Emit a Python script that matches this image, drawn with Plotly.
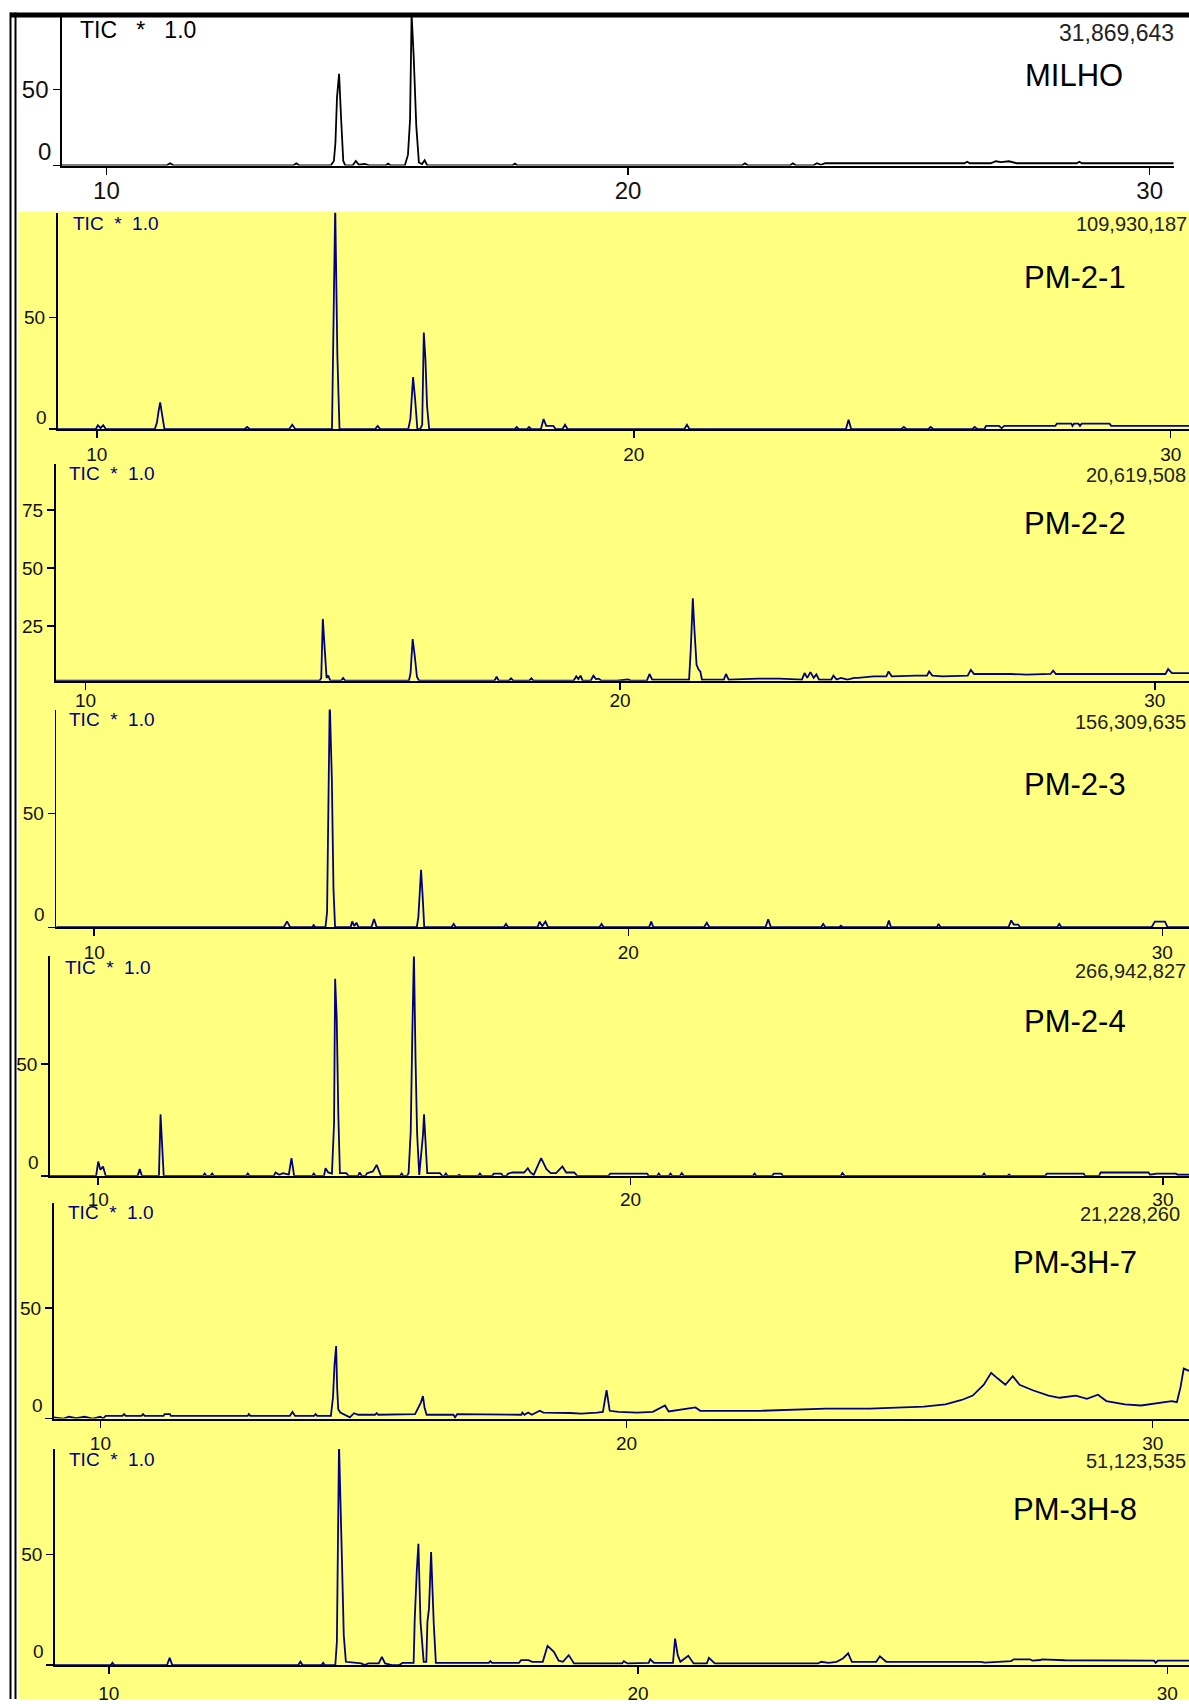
import plotly.graph_objects as go

W, H = 1189, 1704

# ---------------- data: (retention time [min], relative intensity [%]) ----------------
milho = [(9.15, 0), (11.15, 0), (11.22, 1.5), (11.29, 0), (13.58, 0), (13.64, 1.5), (13.70, 0),
         (14.30, 0), (14.36, 3), (14.39, 15), (14.42, 45), (14.46, 60.5), (14.50, 30), (14.54, 3),
         (14.58, 0), (14.72, 0), (14.78, 3), (14.84, 0.5), (14.95, 1), (15.05, 0), (15.35, 0),
         (15.40, 1.2), (15.45, 0), (15.72, 0), (15.78, 7), (15.82, 30), (15.85, 100), (15.89, 72),
         (15.94, 26), (15.99, 2), (16.05, 1), (16.10, 3.5), (16.15, 0), (17.78, 0), (17.83, 1.2),
         (17.88, 0), (22.18, 0), (22.24, 1.5), (22.30, 0), (23.10, 0), (23.16, 1.5), (23.22, 0),
         (23.55, 0), (23.62, 1.5), (23.70, 0.5), (23.78, 1.5), (26.45, 1.5), (26.50, 2.5),
         (26.55, 1.5), (26.95, 1.5), (27.05, 2.8), (27.15, 2.2), (27.30, 2.8), (27.45, 1.5),
         (28.60, 1.5), (28.65, 2.5), (28.70, 1.5), (30.46, 1.5)]

pm_2_1 = [(9.27, 0), (9.98, 0), (10.02, 1.8), (10.07, 0.5), (10.12, 1.8), (10.17, 0), (11.08, 0),
          (11.12, 3), (11.15, 8), (11.18, 12), (11.22, 6), (11.26, 0), (12.75, 0), (12.80, 1),
          (12.85, 0), (13.58, 0), (13.64, 2), (13.70, 0), (14.38, 0), (14.41, 49), (14.44, 100),
          (14.48, 33), (14.52, 0), (15.18, 0), (15.23, 1.5), (15.28, 0), (15.80, 0), (15.84, 4.6),
          (15.89, 23.3), (15.93, 12.8), (15.97, 0), (16.02, 0), (16.06, 2), (16.09, 43.3),
          (16.12, 31.4), (16.15, 10.5), (16.19, 0), (17.78, 0), (17.82, 1), (17.86, 0), (18.01, 0),
          (18.05, 1), (18.09, 0), (18.27, 0), (18.32, 4.6), (18.37, 1.5), (18.50, 1.5), (18.55, 0),
          (18.67, 0), (18.72, 2), (18.77, 0), (20.94, 0), (20.99, 2), (21.04, 0), (23.95, 0),
          (24.00, 4.2), (24.05, 0), (24.98, 0), (25.03, 1), (25.08, 0), (25.48, 0), (25.53, 1),
          (25.58, 0), (26.30, 0), (26.35, 1), (26.40, 0), (26.53, 0), (26.56, 1.5), (26.80, 1.5),
          (26.85, 0.5), (26.90, 1.5), (27.85, 1.5), (27.88, 2.5), (28.15, 2.5), (28.17, 1.5),
          (28.20, 2.5), (28.28, 2.5), (28.31, 1.5), (28.34, 2.5), (28.86, 2.5), (28.89, 1.5),
          (30.34, 1.5)]

pm_2_2 = [(9.44, 1.3), (14.38, 1.3), (14.41, 2.5), (14.44, 28), (14.47, 16.9), (14.51, 2.5),
          (14.54, 3.5), (14.58, 1.3), (14.78, 1.3), (14.82, 2.5), (14.86, 1.3), (16.05, 1.3),
          (16.08, 4.5), (16.12, 19.3), (16.16, 11.8), (16.20, 3), (16.24, 1.3), (17.65, 1.3),
          (17.69, 3), (17.73, 1.3), (17.92, 1.3), (17.96, 2.3), (18.00, 1.3), (18.30, 1.3),
          (18.34, 2.3), (18.38, 1.3), (19.13, 1.3), (19.18, 3.2), (19.22, 2), (19.26, 3.5),
          (19.30, 1.3), (19.45, 1.3), (19.50, 3.5), (19.55, 2), (19.60, 2.2), (19.65, 1.3),
          (19.94, 1.3), (20.15, 1.8), (20.20, 1.3), (20.50, 1.3), (20.55, 4.2), (20.60, 1.8),
          (21.01, 1.8), (21.29, 1.8), (21.32, 14.2), (21.36, 36.9), (21.39, 23.3), (21.43, 8.2),
          (21.47, 6), (21.50, 5.3), (21.53, 1.8), (21.94, 1.8), (21.98, 4.2), (22.03, 1.8),
          (22.59, 2.2), (22.98, 2.2), (23.40, 1.8), (23.45, 4.6), (23.50, 2.5), (23.56, 5),
          (23.62, 2.5), (23.67, 4), (23.72, 1.8), (23.95, 1.8), (23.99, 3.5), (24.05, 1.8),
          (24.13, 2.5), (24.25, 1.8), (24.38, 2.5), (24.45, 2.5), (24.74, 3.2), (24.98, 3.2),
          (25.02, 5.3), (25.08, 3.2), (25.53, 3.5), (25.74, 3.5), (25.78, 5.3), (25.84, 3.5),
          (26.03, 3.2), (26.50, 3.5), (26.56, 6), (26.62, 4.2), (27.31, 4.2), (27.60, 3.9),
          (28.05, 4.2), (28.10, 5.6), (28.15, 4.2), (28.75, 4.2), (29.10, 3.9), (29.46, 3.9),
          (30.00, 4.2), (30.20, 4.2), (30.25, 6.3), (30.32, 4.6), (30.64, 4.6)]

pm_2_3 = [(9.29, 0), (13.55, 0), (13.61, 2.6), (13.67, 0), (14.08, 0), (14.11, 1), (14.14, 0),
          (14.33, 0), (14.36, 6.6), (14.41, 100), (14.45, 65), (14.48, 17), (14.51, 0), (14.80, 0),
          (14.83, 2.6), (14.87, 0.5), (14.91, 2), (14.95, 0), (15.19, 0), (15.24, 3.6), (15.29, 0),
          (16.04, 0), (16.07, 4.6), (16.12, 25.3), (16.15, 13.6), (16.18, 0), (16.69, 0),
          (16.73, 1.5), (16.77, 0), (17.67, 0), (17.71, 1.5), (17.75, 0), (18.30, 0), (18.34, 2.5),
          (18.39, 0.5), (18.45, 2.5), (18.50, 0), (19.46, 0), (19.50, 1.5), (19.54, 0), (20.39, 0),
          (20.43, 2.5), (20.47, 0), (21.42, 0), (21.47, 2), (21.52, 0), (22.57, 0), (22.62, 3.5),
          (22.67, 0), (23.61, 0), (23.65, 1.5), (23.69, 0), (23.95, 0), (23.98, 0.7), (24.02, 0),
          (24.84, 0), (24.88, 3), (24.92, 0), (25.78, 0), (25.81, 1.5), (25.85, 0), (27.12, 0),
          (27.17, 3), (27.22, 1.2), (27.30, 1.2), (27.34, 0), (28.03, 0), (28.07, 1.5), (28.11, 0),
          (29.80, 0), (29.86, 2.5), (30.05, 2.5), (30.10, 0), (30.50, 0)]

pm_2_4 = [(9.09, 0), (9.96, 0), (10.00, 6.4), (10.04, 2.7), (10.09, 4.2), (10.14, 0), (10.74, 0),
          (10.78, 3), (10.82, 0), (11.14, 0), (11.17, 27.5), (11.20, 14.6), (11.23, 0), (11.97, 0),
          (12.00, 1), (12.03, 0), (12.11, 0), (12.14, 1), (12.17, 0), (12.78, 0), (12.81, 1),
          (12.84, 0), (13.30, 0), (13.33, 1.5), (13.40, 0.5), (13.47, 1.2), (13.58, 0.5),
          (13.63, 7.9), (13.68, 0), (14.02, 0), (14.05, 1), (14.08, 0), (14.24, 0), (14.27, 3.4),
          (14.32, 1.5), (14.39, 1), (14.43, 23.5), (14.45, 88.2), (14.48, 70.4), (14.51, 27.2),
          (14.54, 1.2), (14.66, 1.2), (14.70, 0), (14.88, 0), (14.91, 1.5), (14.95, 0), (15.02, 0),
          (15.05, 1.2), (15.16, 2), (15.23, 4.9), (15.28, 1.2), (15.31, 0), (15.67, 0), (15.70, 1),
          (15.73, 0), (15.80, 0), (15.83, 1.2), (15.87, 19.8), (15.90, 63.7), (15.93, 100),
          (15.96, 52.5), (15.99, 19), (16.03, 0.4), (16.06, 7.1), (16.10, 18.3), (16.12, 27.5),
          (16.15, 13.8), (16.18, 1.2), (16.42, 1.2), (16.46, 0), (16.50, 0), (16.53, 1), (16.56, 0),
          (16.75, 0), (16.78, 0.5), (16.81, 0), (17.14, 0), (17.17, 1), (17.20, 0), (17.40, 0),
          (17.43, 1), (17.57, 1), (17.60, 0), (17.67, 0), (17.70, 1), (17.78, 1.5), (18.00, 1.5),
          (18.07, 3.4), (18.12, 1.5), (18.18, 0.4), (18.32, 7.9), (18.42, 3), (18.50, 1.2),
          (18.60, 1.2), (18.72, 4.2), (18.79, 1.5), (18.94, 1.5), (19.00, 0), (19.58, 0),
          (19.62, 1), (20.31, 1), (20.34, 0), (20.50, 0), (20.53, 1), (20.56, 0), (20.72, 0),
          (20.75, 1), (20.78, 0), (20.93, 0), (20.96, 1.2), (21.00, 0), (22.30, 0), (22.33, 1),
          (22.36, 0), (22.66, 0), (22.69, 1), (22.83, 1), (22.86, 0), (23.95, 0), (23.98, 1.2),
          (24.02, 0), (26.61, 0), (26.64, 1), (26.67, 0), (27.08, 0), (27.11, 0.6), (27.14, 0),
          (27.79, 0), (27.82, 1), (28.51, 1), (28.54, 0), (28.80, 0), (28.83, 1.5), (29.73, 1.5),
          (29.76, 0.5), (29.88, 1), (30.24, 1), (30.28, 0.5), (30.49, 0.5)]

pm_3h_7 = [(9.11, 0.5), (9.30, 0), (9.40, 0.8), (9.54, 0.2), (9.70, 0.8), (9.85, 0), (10.00, 0.8),
           (10.05, 0), (10.10, 1.2), (10.42, 1.2), (10.45, 2), (10.48, 1.2), (10.78, 1.2),
           (10.81, 2), (10.84, 1.2), (11.20, 1.2), (11.22, 2), (11.32, 2), (11.34, 1.2), (12.80, 1.2),
           (12.82, 2), (12.85, 1.2), (13.60, 1.2), (13.65, 3), (13.70, 1.2), (14.06, 1.2),
           (14.09, 2), (14.12, 1.2), (14.38, 1.2), (14.42, 9.5), (14.45, 24.5), (14.48, 32.8),
           (14.50, 13.5), (14.52, 4.2), (14.56, 2.7), (14.67, 1.2), (14.74, 0.5), (14.82, 2.4),
           (14.90, 1.7), (15.22, 1.7), (15.25, 2.5), (15.28, 1.7), (15.94, 1.7), (15.98, 2),
           (16.09, 7.2), (16.13, 10.2), (16.16, 5), (16.20, 1.7), (16.71, 1.7), (16.74, 0.5),
           (16.78, 2), (17.25, 2), (17.28, 1.7), (18.00, 1.7), (18.02, 2.7), (18.06, 1.7),
           (18.13, 2.7), (18.20, 1.7), (18.35, 3.5), (18.42, 2.7), (18.93, 2.5), (19.14, 2.2),
           (19.44, 2.7), (19.55, 3), (19.62, 12.8), (19.68, 3.5), (19.85, 3), (20.20, 2.7),
           (20.50, 3), (20.73, 5.9), (20.80, 3.2), (21.31, 5), (21.40, 3.5), (22.55, 3.5),
           (23.79, 4.5), (24.62, 4.5), (25.65, 5.4), (26.06, 6.4), (26.37, 8.4), (26.58, 10.4),
           (26.79, 15.3), (26.93, 20.7), (27.05, 18.2), (27.20, 15.3), (27.34, 19.2), (27.47, 15.3),
           (27.72, 12.8), (28.02, 10.4), (28.23, 9.4), (28.54, 10.4), (28.75, 8.9), (28.96, 10.8),
           (29.12, 7.9), (29.47, 6.4), (29.78, 5.9), (30.09, 6.9), (30.36, 7.9), (30.46, 7.4),
           (30.53, 14.3), (30.59, 22.6), (30.69, 21.6)]

pm_3h_8 = [(8.98, 0), (10.04, 0), (10.07, 1), (10.10, 0), (11.10, 0), (11.15, 3.3), (11.20, 0),
           (13.58, 0), (13.62, 1.5), (13.66, 0), (14.02, 0), (14.05, 1), (14.08, 0), (14.28, 0),
           (14.31, 10.5), (14.35, 100), (14.40, 52.6), (14.44, 13.5), (14.48, 1.5), (14.77, 0.75),
           (14.84, 0), (14.90, 0.75), (15.10, 0.75), (15.16, 3.75), (15.22, 0.75), (15.35, 0),
           (15.49, 0), (15.55, 1.05), (15.76, 1.05), (15.78, 20.3), (15.82, 42.8), (15.85, 54.8),
           (15.89, 19.5), (15.95, 1.5), (16.00, 1.5), (16.02, 19.5), (16.05, 25.5), (16.09, 51.1),
           (16.14, 18.8), (16.18, 1.05), (17.18, 1.05), (17.21, 1.8), (17.24, 1.05), (17.75, 1.05),
           (17.79, 2.25), (17.93, 2.25), (18.00, 1.5), (18.20, 1.5), (18.29, 8.7), (18.41, 6),
           (18.50, 2), (18.58, 1.5), (18.69, 4.5), (18.79, 0.75), (19.70, 0.75), (19.73, 1.8),
           (19.80, 0.75), (20.20, 1.05), (20.23, 2.6), (20.30, 1.05), (20.66, 1.05), (20.70, 12),
           (20.75, 4.5), (20.80, 1.5), (20.95, 4.2), (21.05, 0.75), (21.30, 0.75), (21.34, 3.3),
           (21.45, 0.75), (22.46, 1.05), (22.50, 0.75), (23.40, 0.75), (23.46, 1.5), (23.60, 1.05),
           (23.75, 1.5), (23.87, 3), (23.97, 5.3), (24.04, 1.5), (24.50, 1.5), (24.57, 4),
           (24.69, 1.5), (26.48, 1.5), (26.55, 1.1), (27.05, 1.8), (27.10, 2.6), (27.41, 2.6),
           (27.45, 2.0), (27.60, 2.3), (27.63, 2.6), (28.06, 2.2), (29.75, 2.0), (29.78, 1.0),
           (29.82, 2.0), (30.41, 2.0)]

chromatograms = [milho, pm_2_1, pm_2_2, pm_2_3, pm_2_4, pm_3h_7, pm_3h_8]
sample_names = ["MILHO", "PM-2-1", "PM-2-2", "PM-2-3", "PM-2-4", "PM-3H-7", "PM-3H-8"]
scale_labels = ["31,869,643", "109,930,187", "20,619,508", "156,309,635",
                "266,942,827", "21,228,260", "51,123,535"]
x_tick_vals = [10, 20, 30]
y_tick_vals = [[0, 50], [0, 50], [25, 50, 75], [0, 50], [0, 50], [0, 50], [0, 50]]
y_tick_text = [["", "50"], ["", "50"], ["25", "50", "75"], ["", "50"], ["", "50"], ["", "50"], ["", "50"]]
zero_label = [True, True, False, True, True, True, True]

# ---------------- layout geometry (pixels) ----------------
panels = [
    dict(l=61.9, r=1173.7, t=16.3, b=166.0, xr=(9.146, 30.46), yr=(0, 98.5)),
    dict(l=57.6, r=1189.0, t=213.3, b=430.5, xr=(9.27, 30.34), yr=(0, 96.9)),
    dict(l=55.5, r=1189.0, t=465.0, b=682.7, xr=(9.44, 30.64), yr=(1.3, 95.1)),
    dict(l=56.3, r=1189.0, t=711.7, b=930.0, xr=(9.29, 30.50), yr=(0, 95.8)),
    dict(l=49.8, r=1189.0, t=959.3, b=1179.3, xr=(9.09, 30.49), yr=(0, 98.2)),
    dict(l=53.6, r=1189.0, t=1206.7, b=1422.7, xr=(9.11, 30.69), yr=(0, 97.5)),
    dict(l=54.8, r=1189.0, t=1453.3, b=1670.0, xr=(8.98, 30.41), yr=(0, 97.6)),
]
x_label_standoff = [-4, 0, -5, 0, -2, 0, 3]
tic_pos = [(78, 30.4), (70.6, 224), (67.4, 475), (67.4, 721.6), (63, 970.5), (66.3, 1216), (67.4, 1464)]
num_pos = [(1176, 32.6), (1189, 225), (1188, 476), (1188, 724), (1188, 974), (1182, 1218), (1188, 1465)]
name_pos = [(1022.7, 76), (1021.6, 278), (1021.6, 525), (1021.6, 787), (1021.6, 1025), (1010.7, 1266), (1010.7, 1514)]
zero_shift = [14, 12, 0, 13, 13, 13, 14]


def px(x):
    return x / W


def py(y):
    return 1 - y / H


NAVY = "#000080"
FONT = "Liberation Sans, Arial, sans-serif"

fig = go.Figure()
layout = dict(
    width=W, height=H, autosize=False,
    margin=dict(l=0, r=0, t=0, b=0, pad=0),
    paper_bgcolor="white", plot_bgcolor="rgba(0,0,0,0)",
    showlegend=False,
    font=dict(family=FONT, color="#111111"),
)
annotations = []
shapes = []

for i, (data, p) in enumerate(zip(chromatograms, panels)):
    n = i + 1
    xa = "x" if n == 1 else f"x{n}"
    ya = "y" if n == 1 else f"y{n}"
    color = "black" if i == 0 else NAVY
    tick_size = 24 if i == 0 else 19
    fig.add_trace(go.Scatter(
        x=[d[0] for d in data], y=[d[1] for d in data],
        mode="lines", line=dict(color=color, width=1.8),
        xaxis=xa, yaxis=ya, hoverinfo="skip",
    ))
    layout["xaxis" if n == 1 else f"xaxis{n}"] = dict(
        domain=[px(p["l"]), px(p["r"])], anchor=ya, range=list(p["xr"]),
        showgrid=False, zeroline=False, showline=True, linecolor="black", linewidth=2,
        ticks="outside", ticklen=7, tickwidth=1.5, tickcolor="black",
        tickvals=x_tick_vals, ticktext=[str(v) for v in x_tick_vals],
        tickfont=dict(size=tick_size, family=FONT, color="#111111"),
        ticklabelstandoff=x_label_standoff[i], fixedrange=True,
    )
    layout["yaxis" if n == 1 else f"yaxis{n}"] = dict(
        domain=[py(p["b"]), py(p["t"])], anchor=xa, range=list(p["yr"]),
        showgrid=False, zeroline=False, showline=True, linecolor="black", linewidth=1.6,
        ticks="outside", ticklen=7, tickwidth=1.5, tickcolor="black",
        tickvals=y_tick_vals[i], ticktext=y_tick_text[i],
        tickfont=dict(size=tick_size, family=FONT, color="#111111"),
        fixedrange=True,
    )
    if zero_label[i]:
        annotations.append(dict(
            text="0", xref="paper", yref=ya, x=px(p["l"] - 9), y=0,
            xanchor="right", yanchor="middle", yshift=zero_shift[i], showarrow=False,
            font=dict(size=tick_size, family=FONT, color="#111111"),
        ))
    tx, ty = tic_pos[i]
    annotations.append(dict(
        text="TIC   *   1.0" if i == 0 else "TIC  *  1.0", xref="paper", yref="paper",
        x=px(tx), y=py(ty), xanchor="left", yanchor="middle", showarrow=False,
        font=dict(size=23 if i == 0 else 19, family=FONT, color="black" if i == 0 else NAVY),
    ))
    nx, ny = num_pos[i]
    annotations.append(dict(
        text=scale_labels[i], xref="paper", yref="paper",
        x=px(nx), y=py(ny), xanchor="right", yanchor="middle", showarrow=False,
        font=dict(size=23 if i == 0 else 20, family=FONT, color="#222222"),
    ))
    sx, sy = name_pos[i]
    annotations.append(dict(
        text=sample_names[i], xref="paper", yref="paper",
        x=px(sx), y=py(sy), xanchor="left", yanchor="middle", showarrow=False,
        font=dict(size=31, family=FONT, color="black"),
    ))

# yellow background for the lower six chromatograms
shapes.append(dict(type="rect", xref="paper", yref="paper", layer="below",
                   x0=px(18.5), x1=1.0, y0=0.0, y1=py(212), fillcolor="#FFFF80",
                   line=dict(width=0)))
# frame: thick top bar and double left rule
shapes.append(dict(type="rect", xref="paper", yref="paper", layer="above",
                   x0=px(10), x1=1.0, y0=py(17.5), y1=py(12.5), fillcolor="black",
                   line=dict(width=0)))
for lx in (10.5, 15.5):
    shapes.append(dict(type="line", xref="paper", yref="paper", layer="above",
                       x0=px(lx), x1=px(lx), y0=0.0, y1=py(12.5),
                       line=dict(color="black", width=2)))

layout["annotations"] = annotations
layout["shapes"] = shapes
fig.update_layout(**layout)
fig.write_html(
    "out.html",
    config={"displayModeBar": False, "staticPlot": True},
    post_script=("document.documentElement.style.margin='0';"
                 "document.documentElement.style.overflow='hidden';"
                 "document.body.style.margin='0';document.body.style.padding='0';"
                 "document.body.style.overflow='hidden';"),
)
